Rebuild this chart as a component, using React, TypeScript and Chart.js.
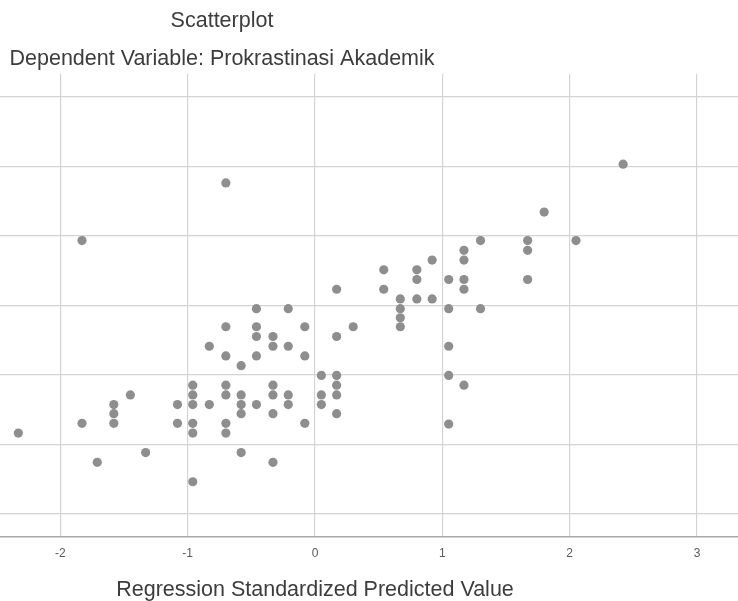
import React, { useEffect, useRef } from "react";
import { Chart, registerables } from "chart.js";

Chart.register(...registerables);

const TITLE = "Scatterplot";
const SUBTITLE = "Dependent Variable: Prokrastinasi Akademik";
const X_TITLE = "Regression Standardized Predicted Value";

const X_TICKS = [-2, -1, 0, 1, 2, 3];
const Y_TICKS = [-3, -2, -1, 0, 1, 2, 3];

// Regression standardized predicted value
const predicted = [
  -0.70, -1.83, 0.17, -0.46, -0.21, -0.70, -0.46, -0.08, 0.30, -0.46,
  -0.33, 0.17, -0.83, -0.33, -0.21, -0.70, -0.46, -0.08, -0.58, 0.05,
  0.17, -0.96, -0.70, -0.33, 0.17, -1.45, -0.96, -0.70, -0.58, -0.33,
  -0.21, 0.05, 0.17, -1.58, -1.08, -0.96, -0.83, -0.58, -0.46, -0.21,
  0.05, -1.58, -0.58, -0.33, 0.17, -2.33, -1.83, -1.58, -1.08, -0.96,
  -0.70, -0.08, -0.96, -0.70, -1.33, -1.71, -0.58, -0.33, -0.96,
  2.42, 1.80, 1.30, 1.67, 2.05, 1.67, 1.17, 1.17, 0.92, 0.54,
  0.80, 0.80, 1.05, 1.17, 1.67, 0.54, 1.17, 0.67, 0.80, 0.92,
  0.67, 1.05, 1.30, 0.67, 0.67, 1.05, 1.05, 1.17, 1.05,
];

// Regression standardized residual
const residual = [
  1.76, 0.93, 0.23, -0.05, -0.05, -0.31, -0.31, -0.31, -0.31, -0.45,
  -0.45, -0.45, -0.59, -0.59, -0.59, -0.73, -0.73, -0.73, -0.87, -1.01,
  -1.01, -1.15, -1.15, -1.15, -1.15, -1.29, -1.29, -1.29, -1.29, -1.29,
  -1.29, -1.29, -1.29, -1.43, -1.43, -1.43, -1.43, -1.43, -1.43, -1.43,
  -1.43, -1.56, -1.56, -1.56, -1.56, -1.84, -1.70, -1.70, -1.70, -1.70,
  -1.70, -1.70, -1.84, -1.84, -2.12, -2.26, -2.12, -2.26, -2.54,
  2.03, 1.34, 0.93, 0.93, 0.93, 0.79, 0.79, 0.65, 0.65, 0.51,
  0.51, 0.37, 0.37, 0.37, 0.37, 0.23, 0.23, 0.09, 0.09, 0.09,
  -0.05, -0.05, -0.05, -0.18, -0.31, -0.59, -1.01, -1.15, -1.71,
];

const FONT = "'Liberation Sans', Arial, Helvetica, sans-serif";

export default function App() {
  const ref = useRef<HTMLCanvasElement | null>(null);

  useEffect(() => {
    if (!ref.current) return;
    const points = predicted.map((x, i) => ({ x, y: residual[i] }));
    const chart = new Chart(ref.current, {
      type: "scatter",
      data: {
        datasets: [
          {
            data: points,
            backgroundColor: "#8e8e8e",
            borderWidth: 0,
            pointRadius: 4.6,
            pointHoverRadius: 4.6,
          },
        ],
      },
      options: {
        animation: false,
        responsive: false,
        devicePixelRatio: 1,
        layout: { padding: 0, autoPadding: false },
        plugins: {
          legend: { display: false },
          tooltip: { enabled: false },
          title: {
            display: true,
            text: TITLE,
            color: "#3c3c3c",
            font: { family: FONT, size: 21.5, weight: "normal", lineHeight: 1.2 },
            padding: { top: 8.5, bottom: 6 },
          },
          subtitle: {
            display: true,
            text: SUBTITLE,
            color: "#3c3c3c",
            font: { family: FONT, size: 21.5, weight: "normal", lineHeight: 1.2 },
            padding: { top: 6.2, bottom: 1.5 },
          },
        },
        scales: {
          x: {
            type: "linear",
            min: -3.33,
            max: 3.33,
            afterBuildTicks: (axis: any) => {
              axis.ticks = X_TICKS.map((v) => ({ value: v }));
            },
            afterFit: (axis: any) => {
              axis.paddingLeft = 0;
              axis.paddingRight = 0;
            },
            grid: { color: "#d4d4d4", lineWidth: 1.2, drawTicks: false },
            border: { display: true, color: "#a8a8a8", width: 1.5 },
            ticks: {
              color: "#5a5a5a",
              font: { family: FONT, size: 12 },
              padding: 9,
              maxRotation: 0,
              autoSkip: false,
            },
            title: {
              display: true,
              text: X_TITLE,
              color: "#3c3c3c",
              font: { family: FONT, size: 21.5, lineHeight: 1 },
              padding: { top: 10.4, bottom: -0.3 },
            },
          },
          y: {
            type: "linear",
            min: -3.335,
            max: 3.33,
            afterBuildTicks: (axis: any) => {
              axis.ticks = Y_TICKS.map((v) => ({ value: v }));
            },
            afterFit: (axis: any) => {
              axis.width = 186;
            },
            grid: { color: "#d4d4d4", lineWidth: 1.2, drawTicks: false },
            border: { display: false },
            ticks: { display: false },
          },
        },
      },
    });
    return () => chart.destroy();
  }, []);

  return (
    <div
      style={{
        position: "fixed",
        left: 0,
        top: 0,
        width: 738,
        height: 601,
        overflow: "hidden",
        background: "#ffffff",
      }}
    >
      <div style={{ position: "absolute", left: -295, top: 0, width: 1034, height: 601 }}>
        <canvas ref={ref} width={1034} height={601} style={{ display: "block" }} />
      </div>
    </div>
  );
}
